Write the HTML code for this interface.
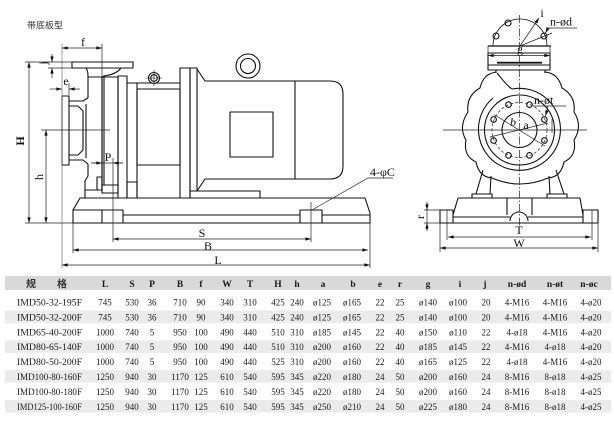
<!DOCTYPE html>
<html><head><meta charset="utf-8">
<style>
html,body{margin:0;padding:0;background:#fff;}
svg{display:block;}
.tx{font-family:"Liberation Serif","Noto Serif CJK SC",serif;fill:#1a1a1a;}
.r{font-size:9px;}
.hd{font-size:9.5px;font-weight:bold;}
.d{font-family:"Liberation Serif",serif;fill:#111;font-size:12px;}
.cj{font-family:"Liberation Sans","Noto Sans CJK SC",sans-serif;fill:#333;}
</style></head><body>
<svg width="614" height="423" viewBox="0 0 614 423" xmlns="http://www.w3.org/2000/svg">
<defs>
<marker id="ar" viewBox="0 0 10 6" refX="10" refY="3" markerWidth="6" markerHeight="3.4" markerUnits="userSpaceOnUse" orient="auto-start-reverse">
<path d="M0,0 L10,3 L0,6 z" fill="#111"/>
</marker>
</defs>

<text class="cj" x="27" y="28.5" font-size="9">带底板型</text>

<!-- ============ LEFT SIDE VIEW ============ -->
<g fill="none" stroke="#111" stroke-width="1.1" stroke-linejoin="round">
  <!-- outlet flange -->
  <rect x="72" y="62" width="61" height="6"/>
  <path d="M86,68 C88,71 88,74 88,78 M121,68 C118,72 112,75 104,76 L102,77"/>
  <!-- inlet flange -->
  <rect x="62" y="96" width="7" height="69"/>
  <path d="M69,101 L83,101 L88,98 M69,160 L83,160 L88,164 M69,106 L78,106 L83,111 L83,150 L78,155 L69,155 M86,104 L86,158"/>
  <!-- casing -->
  <path d="M88,77 L88,98 M88,164 L88,176 L85,181 L85,198"/>
  <path d="M88,77 L102,77 L102,190 M85,190 L102,190"/>
  <rect x="97" y="177" width="5" height="13"/>
  <!-- bracket -->
  <rect x="102" y="77" width="16" height="116"/>
  <path d="M104,77 L104,185 M102,185 L118,185"/>
  <rect x="118" y="76" width="9" height="122"/>
  <rect x="127" y="182" width="10" height="16"/>
  <!-- adapter -->
  <path d="M127,83 L180,83 M137,83 L137,198"/>
  <rect x="137" y="89" width="43" height="76"/>
  <!-- motor flange -->
  <rect x="180" y="68" width="10" height="130"/>
  <rect x="190" y="68" width="7" height="123"/>
  <!-- motor -->
  <path d="M197,69 L205,81 L330,81 Q343,81 343,94 L343,166 Q343,179 330,179 L205,179 L197,191"/>
  <path d="M295,81 L295,179"/>
  <rect x="230" y="112" width="43" height="45"/>
  <rect x="190" y="191" width="70" height="7"/>
  <!-- lifting eye -->
  <circle cx="248" cy="66" r="12" fill="#fff"/>
  <circle cx="248" cy="66" r="7.5"/>
  <!-- gauge -->
  <circle cx="154" cy="78" r="5.5" fill="#fff"/>
  <circle cx="154" cy="78" r="3.3"/>
  <!-- baseplate -->
  <path d="M73,223 L73,210 L80,198 L365,198 L370,213 L370,223 Z"/>
  <path d="M73,210 L102,210 M123,215 L300,215 M322,215 L370,215"/>
  <rect x="102" y="210" width="21" height="13"/>
  <rect x="300" y="210" width="22" height="13"/>
</g>
<g fill="none" stroke="#111" stroke-width="0.6">
  <path d="M146,78 L162,78 M154,70 L154,86"/>
</g>

<!-- left dimensions -->
<g fill="none" stroke="#222" stroke-width="0.7">
  <path d="M62,44 L62,268" stroke="#777"/>
  <path d="M102,44 L102,77"/>
  <path d="M62,48 L102,48" marker-start="url(#ar)" marker-end="url(#ar)"/>
  <path d="M25,62 L72,62 M48,68 L72,68"/>
  <path d="M52,54 L52,62" marker-end="url(#ar)"/>
  <path d="M52,78 L52,68" marker-end="url(#ar)"/>
  <path d="M69,83 L69,95"/>
  <path d="M50,89 L62,89" marker-end="url(#ar)"/>
  <path d="M80,89 L69,89" marker-end="url(#ar)"/>
  <path d="M29,62 L29,223" marker-start="url(#ar)" marker-end="url(#ar)"/>
  <path d="M46,130 L46,223" marker-start="url(#ar)" marker-end="url(#ar)"/>
  <path d="M41,130 L110,130"/>
  <path d="M25,223 L73,223"/>
  <path d="M91,163 L123,163"/>
  <path d="M92,163 L102,163" marker-end="url(#ar)"/>
  <path d="M123,163 L113,163" marker-end="url(#ar)"/>
  <path d="M113,158 L113,242"/>
  <path d="M311,202 L311,242"/>
  <path d="M113,239 L311,239" marker-start="url(#ar)" marker-end="url(#ar)"/>
  <path d="M73,223 L73,253"/>
  <path d="M73,250 L368,250" marker-start="url(#ar)" marker-end="url(#ar)"/>
  <path d="M370,223 L370,268"/>
  <path d="M62,265 L370,265" marker-start="url(#ar)" marker-end="url(#ar)"/>
  <path d="M312,210 L368,178 L393,178"/>
</g>
<text class="d" x="83" y="46" text-anchor="middle" font-size="12">f</text>
<text class="d" x="66" y="85" text-anchor="middle" font-size="11">e</text>
<text class="d" transform="translate(47,63) rotate(-90)" text-anchor="middle" font-size="10">j</text>
<text class="d" transform="translate(24,141) rotate(-90)" text-anchor="middle" font-size="13" font-weight="bold">H</text>
<text class="d" transform="translate(43,177) rotate(-90)" text-anchor="middle" font-size="11">h</text>
<text class="d" x="108" y="161" text-anchor="middle">P</text>
<text class="d" x="202" y="237" text-anchor="middle">S</text>
<text class="d" x="208" y="250" text-anchor="middle">B</text>
<text class="d" x="218" y="264" text-anchor="middle">L</text>
<text class="d" x="370" y="176" font-size="11">4-φC</text>

<!-- ============ RIGHT END VIEW ============ -->
<g fill="none" stroke="#111" stroke-width="1.1" stroke-linejoin="round">
  <path d="M493,46 A27,27 0 0 1 547,46" stroke-width="0.8"/>
  <path d="M488,46 L551,46" stroke-width="1.3"/>
  <circle cx="496" cy="36" r="3"/>
  <circle cx="508" cy="23" r="3"/>
  <circle cx="544" cy="36" r="3"/>
  <rect x="488" y="53" width="62" height="17"/>
  <path d="M488,65 L550,65"/>
  <path d="M496,70 L496,73 M545,70 L545,73"/>
  <!-- volute -->
  <path d="M496,72 Q483,74 480,88 Q466,96 468,112 Q458,127 466,140 Q463,156 476,162 Q479,177 492,178 Q520,190 548,178 Q561,177 564,162 Q577,156 574,140 Q583,126 574,112 Q576,96 562,88 Q558,73 545,72"/>
  <path d="M512,89 A41,41 0 1 1 493,98"/>
  <path d="M497,73 C503,80 506,85 512,89"/>
  <circle cx="519.5" cy="130" r="35"/>
  <circle cx="519.5" cy="130" r="17.5"/>
  <circle cx="544.4" cy="119.5" r="2.8"/>
  <circle cx="529.5" cy="104.6" r="2.8"/>
  <circle cx="508.5" cy="104.6" r="2.8"/>
  <circle cx="493.6" cy="119.5" r="2.8"/>
  <circle cx="493.6" cy="140.5" r="2.8"/>
  <circle cx="508.5" cy="155.4" r="2.8"/>
  <circle cx="529.5" cy="155.4" r="2.8"/>
  <circle cx="544.4" cy="140.5" r="2.8"/>
  <!-- legs -->
  <path d="M483,170 L476,194 M491,176 L490,194 M556,170 L564,194 M549,176 L550,194"/>
  <rect x="472" y="194" width="20" height="4"/>
  <rect x="547" y="194" width="20" height="4"/>
  <!-- baseplate end -->
  <path d="M458,198 L580,198 M458,198 L453,215 L453,210 L440,210 L440,223 L598,223 L598,210 L583,210 L583,215 L580,198"/>
  <path d="M453,215 L453,223 M583,215 L583,223"/>
  <path d="M453,217 L510,217 M528,217 L583,217"/>
  <path d="M507,198 L507,215 M532,198 L532,215"/>
  <path d="M510,221 A9,9 0 0 1 528,221"/>
</g>
<g fill="none" stroke="#222" stroke-width="0.7">
  <circle cx="519.5" cy="130" r="27.5" stroke-dasharray="3,2"/>
  <path d="M519.5,15 L519.5,228" stroke-dasharray="8,2,1.5,2"/>
  <path d="M443,130 L587,130"/>
  <path d="M520,46 L539,18" marker-end="url(#ar)"/>
  <path d="M520,46 L552,33"/>
  <path d="M548,28 L577,28"/>
  <path d="M548,28 L545.5,33" marker-end="url(#ar)"/>
  <path d="M488,46 L488,58 M550,46 L550,58"/>
  <path d="M488,55.5 L550,55.5" marker-start="url(#ar)" marker-end="url(#ar)"/>
  <path d="M494,114.5 L545,146"/>
  <path d="M490,137 L548,123"/>
  <path d="M552,119 L552,133"/>
  <path d="M533,106 L566,106"/>
  <path d="M548,106 L545.5,116" marker-end="url(#ar)"/>
  <path d="M447,210 L447,240 M592,210 L592,240"/>
  <path d="M440,223 L440,252 M598,223 L598,252"/>
  <path d="M448,237 L591,237" marker-start="url(#ar)" marker-end="url(#ar)"/>
  <path d="M440,248 L598,248" marker-start="url(#ar)" marker-end="url(#ar)"/>
  <path d="M424,210 L440,210 M424,223 L440,223"/>
  <path d="M427,202 L427,231"/>
  <path d="M427,203 L427,210" marker-end="url(#ar)"/>
  <path d="M427,230 L427,223" marker-end="url(#ar)"/>
</g>
<rect x="486" y="61.8" width="0" height="0" fill="none"/>
<rect x="497" y="61.8" width="45" height="1.8" fill="#111"/>
<text class="d" x="542" y="17" text-anchor="middle" font-size="11">i</text>
<text class="d" x="550" y="25.5" font-size="11">n-ød</text>
<text class="d" x="520" y="53" text-anchor="middle" font-size="11">g</text>
<text class="d" x="534" y="104" font-size="11">n-øt</text>
<text class="d" x="513" y="126" text-anchor="middle" font-size="11" font-style="italic">b</text>
<text class="d" x="526" y="129" text-anchor="middle" font-size="11">a</text>
<text class="d" x="519" y="234" text-anchor="middle">T</text>
<text class="d" x="519" y="247" text-anchor="middle">W</text>
<text class="d" transform="translate(424,217) rotate(-90)" text-anchor="middle" font-size="11">r</text>

<!-- ============ TABLE ============ -->
<rect x="5" y="276" width="606" height="14" fill="#d9d9d9"/>
<rect x="5" y="310.5" width="606" height="12.5" fill="#ebebeb"/>
<rect x="5" y="340.4" width="606" height="12.5" fill="#ebebeb"/>
<rect x="5" y="370.2" width="606" height="12.5" fill="#ebebeb"/>
<rect x="5" y="400" width="606" height="12.5" fill="#ebebeb"/>

<text class="cj" y="287.5" font-size="10" font-weight="bold" fill="#222" text-anchor="middle"><tspan x="31">规</tspan><tspan x="62">格</tspan></text>
<text class="tx hd" y="287" text-anchor="middle"><tspan x="105">L</tspan><tspan x="132">S</tspan><tspan x="152">P</tspan><tspan x="180">B</tspan><tspan x="201">f</tspan><tspan x="227">W</tspan><tspan x="250">T</tspan><tspan x="278">H</tspan><tspan x="297">h</tspan><tspan x="323">a</tspan><tspan x="353">b</tspan><tspan x="380">e</tspan><tspan x="400">r</tspan><tspan x="428">g</tspan><tspan x="460">i</tspan><tspan x="485">j</tspan><tspan x="517">n-ød</tspan><tspan x="555">n-øt</tspan><tspan x="589">n-øc</tspan></text>

<g class="tx r">
<text x="17" y="305.5" textLength="65" lengthAdjust="spacingAndGlyphs">IMD50-32-195F</text>
<text x="17" y="320.4" textLength="65" lengthAdjust="spacingAndGlyphs">IMD50-32-200F</text>
<text x="17" y="335.3" textLength="65" lengthAdjust="spacingAndGlyphs">IMD65-40-200F</text>
<text x="17" y="350.2" textLength="65" lengthAdjust="spacingAndGlyphs">IMD80-65-140F</text>
<text x="17" y="365.1" textLength="65" lengthAdjust="spacingAndGlyphs">IMD80-50-200F</text>
<text x="17" y="380" textLength="65" lengthAdjust="spacingAndGlyphs">IMD100-80-160F</text>
<text x="17" y="394.9" textLength="65" lengthAdjust="spacingAndGlyphs">IMD100-80-180F</text>
<text x="17" y="409.8" textLength="65" lengthAdjust="spacingAndGlyphs">IMD125-100-160F</text>

<text y="305.5" text-anchor="middle"><tspan x="105">745</tspan><tspan x="132">530</tspan><tspan x="152">36</tspan><tspan x="180">710</tspan><tspan x="201">90</tspan><tspan x="227">340</tspan><tspan x="250">310</tspan><tspan x="278">425</tspan><tspan x="297">240</tspan><tspan x="322">ø125</tspan><tspan x="352">ø165</tspan><tspan x="380">22</tspan><tspan x="400">25</tspan><tspan x="428">ø140</tspan><tspan x="458">ø100</tspan><tspan x="486">20</tspan><tspan x="517">4-M16</tspan><tspan x="555">4-M16</tspan><tspan x="591">4-ø20</tspan></text>
<text y="320.4" text-anchor="middle"><tspan x="105">745</tspan><tspan x="132">530</tspan><tspan x="152">36</tspan><tspan x="180">710</tspan><tspan x="201">90</tspan><tspan x="227">340</tspan><tspan x="250">310</tspan><tspan x="278">425</tspan><tspan x="297">240</tspan><tspan x="322">ø125</tspan><tspan x="352">ø165</tspan><tspan x="380">22</tspan><tspan x="400">25</tspan><tspan x="428">ø140</tspan><tspan x="458">ø100</tspan><tspan x="486">20</tspan><tspan x="517">4-M16</tspan><tspan x="555">4-M16</tspan><tspan x="591">4-ø20</tspan></text>
<text y="335.3" text-anchor="middle"><tspan x="105">1000</tspan><tspan x="132">740</tspan><tspan x="152">5</tspan><tspan x="180">950</tspan><tspan x="201">100</tspan><tspan x="227">490</tspan><tspan x="250">440</tspan><tspan x="278">510</tspan><tspan x="297">310</tspan><tspan x="322">ø185</tspan><tspan x="352">ø145</tspan><tspan x="380">22</tspan><tspan x="400">40</tspan><tspan x="428">ø150</tspan><tspan x="458">ø110</tspan><tspan x="486">22</tspan><tspan x="517">4-ø18</tspan><tspan x="555">4-M16</tspan><tspan x="591">4-ø20</tspan></text>
<text y="350.2" text-anchor="middle"><tspan x="105">1000</tspan><tspan x="132">740</tspan><tspan x="152">5</tspan><tspan x="180">950</tspan><tspan x="201">100</tspan><tspan x="227">490</tspan><tspan x="250">440</tspan><tspan x="278">510</tspan><tspan x="297">310</tspan><tspan x="322">ø200</tspan><tspan x="352">ø160</tspan><tspan x="380">22</tspan><tspan x="400">40</tspan><tspan x="428">ø185</tspan><tspan x="458">ø145</tspan><tspan x="486">22</tspan><tspan x="517">4-M16</tspan><tspan x="555">4-ø18</tspan><tspan x="591">4-ø20</tspan></text>
<text y="365.1" text-anchor="middle"><tspan x="105">1000</tspan><tspan x="132">740</tspan><tspan x="152">5</tspan><tspan x="180">950</tspan><tspan x="201">100</tspan><tspan x="227">490</tspan><tspan x="250">440</tspan><tspan x="278">525</tspan><tspan x="297">310</tspan><tspan x="322">ø200</tspan><tspan x="352">ø160</tspan><tspan x="380">22</tspan><tspan x="400">40</tspan><tspan x="428">ø165</tspan><tspan x="458">ø125</tspan><tspan x="486">22</tspan><tspan x="517">4-ø18</tspan><tspan x="555">4-M16</tspan><tspan x="591">4-ø20</tspan></text>
<text y="380" text-anchor="middle"><tspan x="105">1250</tspan><tspan x="132">940</tspan><tspan x="152">30</tspan><tspan x="180">1170</tspan><tspan x="201">125</tspan><tspan x="227">610</tspan><tspan x="250">540</tspan><tspan x="278">595</tspan><tspan x="297">345</tspan><tspan x="322">ø220</tspan><tspan x="352">ø180</tspan><tspan x="380">24</tspan><tspan x="400">50</tspan><tspan x="428">ø200</tspan><tspan x="458">ø160</tspan><tspan x="486">24</tspan><tspan x="517">8-M16</tspan><tspan x="555">8-ø18</tspan><tspan x="591">4-ø25</tspan></text>
<text y="394.9" text-anchor="middle"><tspan x="105">1250</tspan><tspan x="132">940</tspan><tspan x="152">30</tspan><tspan x="180">1170</tspan><tspan x="201">125</tspan><tspan x="227">610</tspan><tspan x="250">540</tspan><tspan x="278">595</tspan><tspan x="297">345</tspan><tspan x="322">ø220</tspan><tspan x="352">ø180</tspan><tspan x="380">24</tspan><tspan x="400">50</tspan><tspan x="428">ø200</tspan><tspan x="458">ø160</tspan><tspan x="486">24</tspan><tspan x="517">8-M16</tspan><tspan x="555">8-ø18</tspan><tspan x="591">4-ø25</tspan></text>
<text y="409.8" text-anchor="middle"><tspan x="105">1250</tspan><tspan x="132">940</tspan><tspan x="152">30</tspan><tspan x="180">1170</tspan><tspan x="201">125</tspan><tspan x="227">610</tspan><tspan x="250">540</tspan><tspan x="278">595</tspan><tspan x="297">345</tspan><tspan x="322">ø250</tspan><tspan x="352">ø210</tspan><tspan x="380">24</tspan><tspan x="400">50</tspan><tspan x="428">ø225</tspan><tspan x="458">ø180</tspan><tspan x="486">24</tspan><tspan x="517">8-M16</tspan><tspan x="555">8-ø18</tspan><tspan x="591">4-ø25</tspan></text>
</g>
</svg>
</body></html>
